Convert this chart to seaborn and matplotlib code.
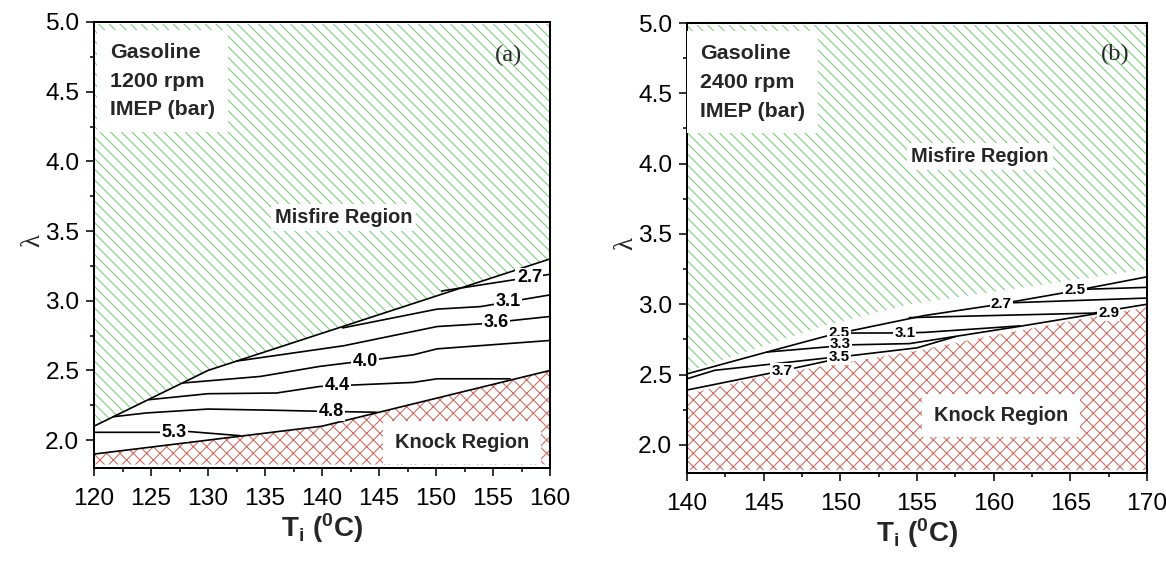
import matplotlib
matplotlib.use("Agg")
import matplotlib.pyplot as plt
import seaborn as sns
from matplotlib.ticker import MultipleLocator, FormatStrFormatter

DPI = 160
W_PX, H_PX = 1166, 561

# ---------------- panel (a): 1200 rpm ----------------
a_xlim = (120, 160)
a_misfire_T = [120, 130, 160]
a_misfire_lam = [2.10, 2.50, 3.30]
a_knock_T = [120, 130, 140, 145, 150, 160]
a_knock_lam = [1.90, 2.00, 2.10, 2.20, 2.30, 2.50]

a_imep_27 = ([150.5, 156.8, 160.0], [3.07, 3.15, 3.19])
a_imep_31 = ([141.8, 150.1, 153.9, 160.0], [2.805, 2.94, 2.958, 3.042])
a_imep_36 = ([132.5, 141.9, 150.1, 153.9, 160.0], [2.567, 2.677, 2.815, 2.834, 2.887])
a_imep_40 = ([127.8, 134.6, 139.8, 148.0, 150.1, 160.0], [2.41, 2.457, 2.529, 2.612, 2.655, 2.715])
a_imep_44 = ([124.8, 130.0, 136.0, 139.8, 148.0, 150.1, 156.5], [2.29, 2.333, 2.338, 2.385, 2.414, 2.44, 2.44])
a_imep_48 = ([121.7, 124.6, 130.0, 136.0, 139.8, 144.8], [2.168, 2.195, 2.223, 2.214, 2.207, 2.20])
a_imep_53 = ([120.0, 125.8, 128.1, 132.8], [2.056, 2.056, 2.063, 2.032])

# label text and its (T, lambda) anchor on the curve
a_labels = [("2.7", 158.2, 3.165), ("3.1", 156.3, 2.993), ("3.6", 155.3, 2.845),
            ("4.0", 143.8, 2.565), ("4.4", 141.3, 2.39), ("4.8", 140.8, 2.205),
            ("5.3", 127.0, 2.058)]

# ---------------- panel (b): 2400 rpm ----------------
b_xlim = (140, 170)
b_misfire_T = [140, 148.7, 154.5, 170]
b_misfire_lam = [2.52, 2.84, 3.00, 3.25]
b_knock_T = [140, 145, 150, 155, 160, 165, 170]
b_knock_lam = [2.36, 2.49, 2.58, 2.67, 2.78, 2.88, 2.98]

b_top_line = ([140.0, 145.2, 149.3, 155.5, 159.8, 164.5, 170.0],
              [2.505, 2.66, 2.78, 2.92, 2.99, 3.08, 3.195])
b_imep_25_right = ([165.5, 170.0], [3.105, 3.12])
b_imep_27_right = ([161.0, 170.0], [3.01, 3.044])
b_imep_31 = ([149.9, 154.2, 155.5, 161.7], [2.795, 2.796, 2.80, 2.846])
b_imep_29 = ([154.5, 160.0, 166.5, 168.2, 170.0], [2.905, 2.92, 2.937, 2.968, 3.00])
b_imep_33 = ([145.2, 149.2, 150.0, 154.5, 161.7, 166.7], [2.66, 2.697, 2.71, 2.72, 2.843, 2.933])
b_imep_35 = ([140.0, 141.8, 149.3, 150.5, 155.0, 157.5], [2.47, 2.53, 2.62, 2.632, 2.69, 2.77])
b_imep_37 = ([140.0, 146.2, 149.3], [2.39, 2.527, 2.60])

b_labels = [("2.5", 165.3, 3.098), ("2.7", 160.5, 3.003), ("2.9", 167.5, 2.937),
            ("2.5", 149.9, 2.798), ("3.1", 154.2, 2.796), ("3.3", 150.0, 2.714),
            ("3.5", 149.9, 2.627), ("3.7", 146.2, 2.527)]

Y_LIM = (1.8, 5.0)
GREEN = "#7ad27a"
RED = "#cf6f66"

sns.set_theme(style="ticks")
plt.rcParams.update({
    "font.family": ["Liberation Sans", "DejaVu Sans"],
    "mathtext.fontset": "custom",
    "mathtext.rm": "Liberation Sans",
    "mathtext.bf": "Liberation Sans:bold",
    "mathtext.it": "Liberation Sans:italic",
    "hatch.linewidth": 0.5,
    "axes.linewidth": 0.9,
    "axes.edgecolor": "black",
    "xtick.color": "black",
    "ytick.color": "black",
})

fig = plt.figure(figsize=(W_PX / DPI, H_PX / DPI), dpi=DPI)
fig.patch.set_facecolor("white")


def px_axes(left, top, right, bottom):
    return fig.add_axes([left / W_PX, 1 - bottom / H_PX, (right - left) / W_PX, (bottom - top) / H_PX])


ax_a = px_axes(94, 22, 550, 468)
ax_b = px_axes(687, 23, 1147, 473)


def style_axes(ax, xlim, xlabel_y):
    ax.set_xlim(*xlim)
    ax.set_ylim(*Y_LIM)
    ax.xaxis.set_major_locator(MultipleLocator(5))
    ax.xaxis.set_minor_locator(MultipleLocator(2.5))
    ax.yaxis.set_major_locator(MultipleLocator(0.5))
    ax.yaxis.set_minor_locator(MultipleLocator(0.25))
    ax.yaxis.set_major_formatter(FormatStrFormatter("%.1f"))
    ax.tick_params(which="major", direction="out", length=3.6, width=0.7,
                   labelsize=11, top=False, right=False)
    ax.tick_params(axis="x", which="major", pad=5.5)
    ax.tick_params(axis="y", which="major", pad=3.0)
    ax.tick_params(which="minor", direction="out", length=2.0, width=0.7, top=False, right=False)
    for s in ax.spines.values():
        s.set_visible(True)
        s.set_color("black")
        s.set_linewidth(0.9)
    ax.set_facecolor("white")
    ax.set_xlabel(r"$\mathbf{T_i\ (^0C)}$", fontsize=12.5)
    ax.xaxis.set_label_coords(0.5, xlabel_y)
    ax.xaxis.label.set_va("top")
    ax.set_ylabel("λ", fontsize=12, family="Liberation Serif")
    ax.yaxis.label.set_va("center")
    ax.yaxis.set_label_coords(-0.134, 0.51)


def draw_regions(ax, mis_T, mis_lam, kn_T, kn_lam, kn_floor):
    ax.fill_between(mis_T, mis_lam, [4.985] * len(mis_T), facecolor="none",
                    edgecolor=GREEN, hatch="\\" * 5, linewidth=0, zorder=1)
    ax.fill_between(kn_T, [kn_floor] * len(kn_T), kn_lam, facecolor="none",
                    edgecolor=RED, hatch="xxxx", linewidth=0, zorder=1)


def draw_curve(ax, curve):
    T, lam = curve
    sns.lineplot(x=T, y=lam, ax=ax, color="black", linewidth=0.75, sort=False,
                 estimator=None, legend=False, zorder=2)


def draw_labels(ax, labels, size):
    for txt, t, lam in labels:
        ax.text(t, lam, txt, ha="center", va="center", fontsize=size, fontweight="bold",
                color="black", zorder=4,
                bbox=dict(boxstyle="square,pad=0.08", fc="white", ec="none"))


def region_text(ax, x, y, txt, pad):
    ax.text(x, y, txt, ha="center", va="center", fontsize=9, fontweight="bold", zorder=4,
            bbox=dict(boxstyle=f"square,pad={pad}", fc="white", ec="none"))


def info_text(ax, x, txt):
    ax.text(x, 0.953, txt, transform=ax.transAxes, ha="left", va="top", fontsize=9.6,
            fontweight="bold", linespacing=1.65, zorder=4,
            bbox=dict(boxstyle="square,pad=0.6", fc="white", ec="none"))


# ---- panel (a)
style_axes(ax_a, a_xlim, -0.096)
draw_regions(ax_a, a_misfire_T, a_misfire_lam, a_knock_T, a_knock_lam, 1.825)
for c in [(a_misfire_T, a_misfire_lam), (a_knock_T, a_knock_lam),
          a_imep_27, a_imep_31, a_imep_36, a_imep_40, a_imep_44, a_imep_48, a_imep_53]:
    draw_curve(ax_a, c)
draw_labels(ax_a, a_labels, 8.1)
region_text(ax_a, 141.9, 3.594, "Misfire Region", 0.2)
region_text(ax_a, 152.3, 1.982, "Knock Region", 0.6)
info_text(ax_a, 0.035, "Gasoline\n1200 rpm\nIMEP (bar)")
ax_a.text(0.908, 0.926, "(a)", transform=ax_a.transAxes, ha="center", va="center",
          fontsize=11, family="Liberation Serif", zorder=4)

# ---- panel (b)
style_axes(ax_b, b_xlim, -0.096)
draw_regions(ax_b, b_misfire_T, b_misfire_lam, b_knock_T, b_knock_lam, 1.82)
for c in [b_top_line, b_imep_25_right, b_imep_27_right, b_imep_31, b_imep_29,
          b_imep_33, b_imep_35, b_imep_37]:
    draw_curve(ax_b, c)
draw_labels(ax_b, b_labels, 6.8)
region_text(ax_b, 159.1, 4.05, "Misfire Region", 0.2)
region_text(ax_b, 160.5, 2.21, "Knock Region", 0.6)
info_text(ax_b, 0.028, "Gasoline\n2400 rpm\nIMEP (bar)")
ax_b.text(0.930, 0.929, "(b)", transform=ax_b.transAxes, ha="center", va="center",
          fontsize=11, family="Liberation Serif", zorder=4)

fig.savefig("out.png", dpi=DPI, facecolor="white")
